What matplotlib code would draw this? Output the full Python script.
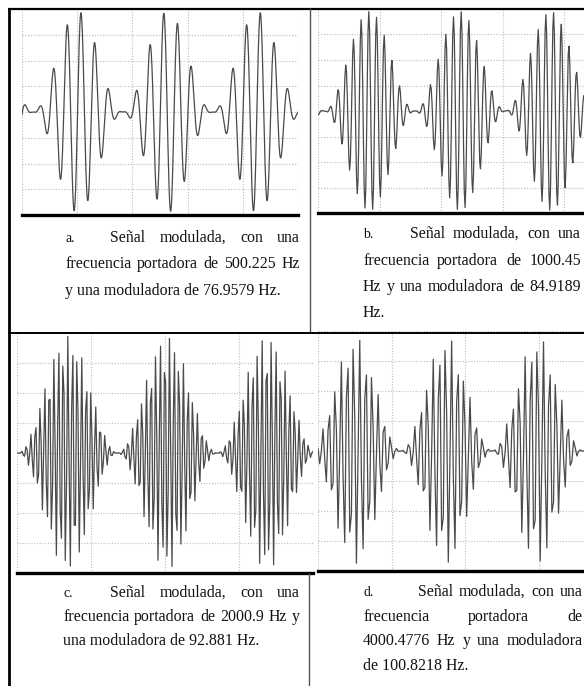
import numpy as np
import matplotlib
matplotlib.use("Agg")
import matplotlib.pyplot as plt
from matplotlib.lines import Line2D

panel_labels = ["a.", "b.", "c.", "d."]
carrier_hz = [500.225, 1000.45, 2000.9, 4000.4776]
modulator_hz = [76.9579, 84.9189, 92.881, 100.8218]
env_zero_ms = [1.6, 0.8, 0.1, -0.9]        # time of envelope zero
carrier_peak_ms = [8.55, 6.6, 5.5, 3.8]     # time of a carrier crest
peak_div = [3.9, 3.9, 3.9, 3.8]             # peak amplitude in vertical divisions
visible_divs = [5, 5, 4, 5]                 # horizontal divisions of each screen
ms_per_div = 8
display_rate_khz = [100.0, 10.0, 7.3, 5.5]  # trace points per ms on each screen

caption_a = ["Señal modulada, con una",
             "frecuencia portadora de 500.225 Hz",
             "y una moduladora de 76.9579 Hz."]
caption_b = ["Señal modulada, con una",
             "frecuencia portadora de 1000.45",
             "Hz y una moduladora de 84.9189",
             "Hz."]
caption_c = ["Señal modulada, con una",
             "frecuencia portadora de 2000.9 Hz y",
             "una moduladora de 92.881 Hz."]
caption_d = ["Señal modulada, con una",
             "frecuencia portadora de",
             "4000.4776 Hz y una moduladora",
             "de 100.8218 Hz."]
captions = [caption_a, caption_b, caption_c, caption_d]

# ---------------- layout (pixels) ----------------
W, H = 584, 686
fig = plt.figure(figsize=(W / 100, H / 100), dpi=100)
fig.patch.set_facecolor("white")

def fx(x):
    return x / W

def fy(y):
    return 1 - y / H

screen_px = [  # x0, y_top, px_per_div_x, y_bottom
    (22, 9, 55.2, 215),
    (318, 9, 61.6, 213),
    (17, 333, 74.0, 573),
    (318, 331, 73.5, 571),
]
line_w = [0.9, 0.9, 0.9, 0.9]

for i in range(4):
    x0, yt, pdx, yb = screen_px[i]
    ndiv = visible_divs[i]
    x1 = x0 + ndiv * pdx
    ax = fig.add_axes([fx(x0), fy(yb), (x1 - x0) / W, (yb - yt) / H])
    T = ndiv * ms_per_div
    n = int(T * display_rate_khz[i]) + 1
    t = np.linspace(0, T, n)
    env = 0.5 * (1 - np.cos(2 * np.pi * modulator_hz[i] * (t - env_zero_ms[i]) / 1000))
    car = np.cos(2 * np.pi * carrier_hz[i] * (t - carrier_peak_ms[i]) / 1000)
    y = peak_div[i] * env * car
    ax.plot(t, y, color="#4a4a4a", lw=line_w[i], solid_joinstyle="round")
    ax.set_xlim(0, T)
    ax.set_ylim(-4, 4)
    ax.set_xticks(np.arange(0, T + 0.1, ms_per_div))
    ax.set_yticks(np.arange(-4, 4.1, 1))
    ax.grid(True, color="#bcbcbc", ls=(0, (1, 1.5)), lw=0.8)
    ax.tick_params(length=0, labelbottom=False, labelleft=False)
    for s in ["top", "left", "right"]:
        ax.spines[s].set_visible(False)
    ax.spines["bottom"].set_linewidth(2.4)
    ax.spines["bottom"].set_color("black")
    ax.set_facecolor("white")

# table lines
def hline(x0, x1, y, lw, color="black"):
    fig.add_artist(Line2D([fx(x0), fx(x1)], [fy(y), fy(y)], transform=fig.transFigure,
                          lw=lw, color=color, solid_capstyle="butt"))

def vline(x, y0, y1, lw, color="black"):
    fig.add_artist(Line2D([fx(x), fx(x)], [fy(y0), fy(y1)], transform=fig.transFigure,
                          lw=lw, color=color, solid_capstyle="butt"))

hline(8, 584, 8.5, 1.6)
vline(8.5, 8, 686, 2.0)
vline(309.5, 8, 333, 1.0, "#555555")
hline(8, 584, 333, 1.4)
vline(309, 573, 686, 1.0, "#555555")

# captions with justified text
cap_layout = [  # label_x, first_x, left_x, right_x, baselines
    (65, 110, 65, 300, [242, 268, 295]),
    (363, 410, 363, 581, [238, 265, 291, 317]),
    (63, 110, 63, 300, [597, 621, 645]),
    (363, 418, 363, 583, [596, 621, 645, 670]),
]
FS = 11.4
FAM = ["Liberation Serif", "DejaVu Serif"]
TC = "#111111"
renderer = fig.canvas.get_renderer()

for i in range(4):
    lx, fx0, lft, rgt, bases = cap_layout[i]
    fig.text(fx(lx), fy(bases[0]), panel_labels[i], fontsize=FS - 1.5, family=FAM,
             color=TC, va="baseline", ha="left")
    lines = captions[i]
    for j, line in enumerate(lines):
        start = fx0 if j == 0 else lft
        last = (j == len(lines) - 1)
        if last:
            fig.text(fx(start), fy(bases[j]), line, fontsize=FS, family=FAM, color=TC,
                     va="baseline", ha="left")
            continue
        words = line.split(" ")
        arts = [fig.text(0, fy(bases[j]), w, fontsize=FS, family=FAM, color=TC,
                         va="baseline", ha="left") for w in words]
        widths = [a.get_window_extent(renderer).width for a in arts]
        gap = (rgt - start - sum(widths)) / max(len(words) - 1, 1)
        x = start
        for a, wdt in zip(arts, widths):
            a.set_x(fx(x))
            x += wdt + gap

fig.savefig("out.png", dpi=100, facecolor="white")
